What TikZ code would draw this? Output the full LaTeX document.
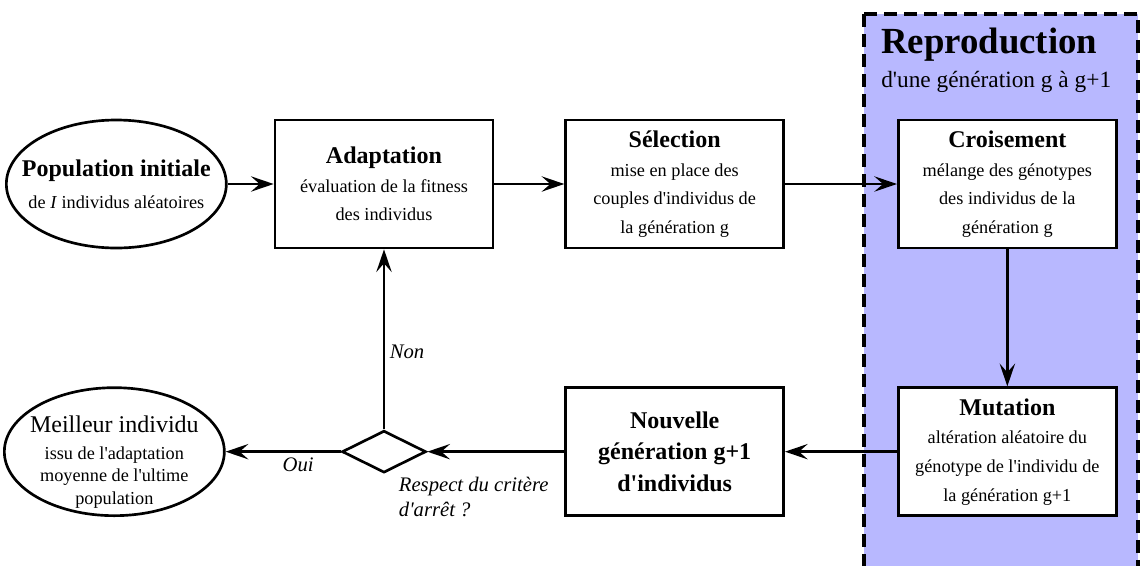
\documentclass[tikz,border=0pt]{standalone}
\usepackage{fontspec}
\setmainfont{Liberation Serif}[Ligatures=TeXOff]
\usetikzlibrary{arrows.meta,positioning,shapes.geometric}
\definecolor{reprofill}{RGB}{184,184,255}
\newcommand{\txtsz}{\fontsize{13.7pt}{21.5pt}\selectfont}
\newcommand{\headsz}{\fontsize{18pt}{23.5pt}\selectfont}
\tikzset{
  >={Stealth[length=17pt,width=11.5pt,inset=6.5pt]},
  etape/.style={
    draw, rectangle, align=center, inner sep=2pt, font=\txtsz,
    line width=2pt, fill=white, minimum width=163.5pt, minimum height=96pt
  },
  terminal/.style={
    draw, ellipse, align=center, inner xsep=-20pt, inner ysep=-22pt,
    line width=2pt, fill=white, minimum width=165pt, minimum height=96pt
  },
  test/.style={
    draw, diamond, inner sep=0pt, line width=2pt, fill=white,
    minimum width=63pt, minimum height=31.5pt
  },
  lien/.style={->, line width=2pt},
  etiq/.style={font=\fontsize{15.5pt}{19pt}\selectfont\itshape},
  zone/.style={draw, line width=3pt, dash pattern=on 10pt off 5pt, fill=reprofill},
}
\begin{document}
\begin{tikzpicture}
  \useasboundingbox (0,0) rectangle (855.75pt,-423.75pt);
  % zone de reproduction
  \draw[zone] (648pt,-10.5pt) rectangle (853.5pt,-440pt);
  \node[anchor=west, inner sep=0pt, font=\fontsize{27.6pt}{30pt}\selectfont\bfseries]
    (reprotitre) at (660.75pt,-33.75pt) {Reproduction};
  \node[anchor=west, inner sep=0pt, font=\fontsize{17.5pt}{20pt}\selectfont]
    (reprosous) at (660.75pt,-61.5pt) {d'une génération g à g+1};

  \node[etape] (adapt) at (288pt,-138pt) {{\headsz\bfseries Adaptation}\\
    évaluation de la fitness\\des individus};
  \node[etape, right=52.5pt of adapt] (select) {{\headsz\bfseries Sélection}\\
    mise en place des\\couples d'individus de\\la génération g};
  \node[etape, right=84pt of select] (crois) {{\headsz\bfseries Croisement}\\
    mélange des génotypes\\des individus de la\\génération g};
  \node[etape, below=102.75pt of crois] (mut) {{\headsz\bfseries Mutation}\\
    altération aléatoire du\\génotype de l'individu de\\la génération g+1};
  \node[etape, left=84pt of mut, font=\headsz\bfseries] (nouv) {Nouvelle\\
    génération g+1\\d'individus};
  \node[terminal, left=34.5pt of adapt, font=\fontsize{13.7pt}{24pt}\selectfont]
    (pop) {{\headsz\bfseries Population initiale}\\de \textit{I} individus aléatoires};
  \node[test, below=135pt of adapt] (arret) {};
  \node[terminal, left=86.25pt of arret, font=\fontsize{13.7pt}{17pt}\selectfont]
    (best) {\rule{0pt}{28pt}{\headsz Meilleur individu}\\[3pt]issu de l'adaptation\\
    moyenne de l'ultime\\population};

  \draw[lien] (pop) -- (adapt);
  \draw[lien] (adapt) -- (select);
  \draw[lien] (select) -- (crois);
  \draw[lien] (crois) -- (mut);
  \draw[lien] (mut) -- (nouv);
  \draw[lien] (nouv) -- (arret);
  \draw[lien] (arret) -- node[etiq, pos=0.37, below] (oui) {Oui} (best);
  \draw[lien] (arret) -- node[etiq, pos=0.43, right] (non) {Non} (adapt);
  \node[etiq, anchor=north west, align=left, inner sep=0pt]
    (critere) at ([xshift=11pt,yshift=-2pt]arret.south) {Respect du critère\\d'arrêt ?};
\end{tikzpicture}
\end{document}
